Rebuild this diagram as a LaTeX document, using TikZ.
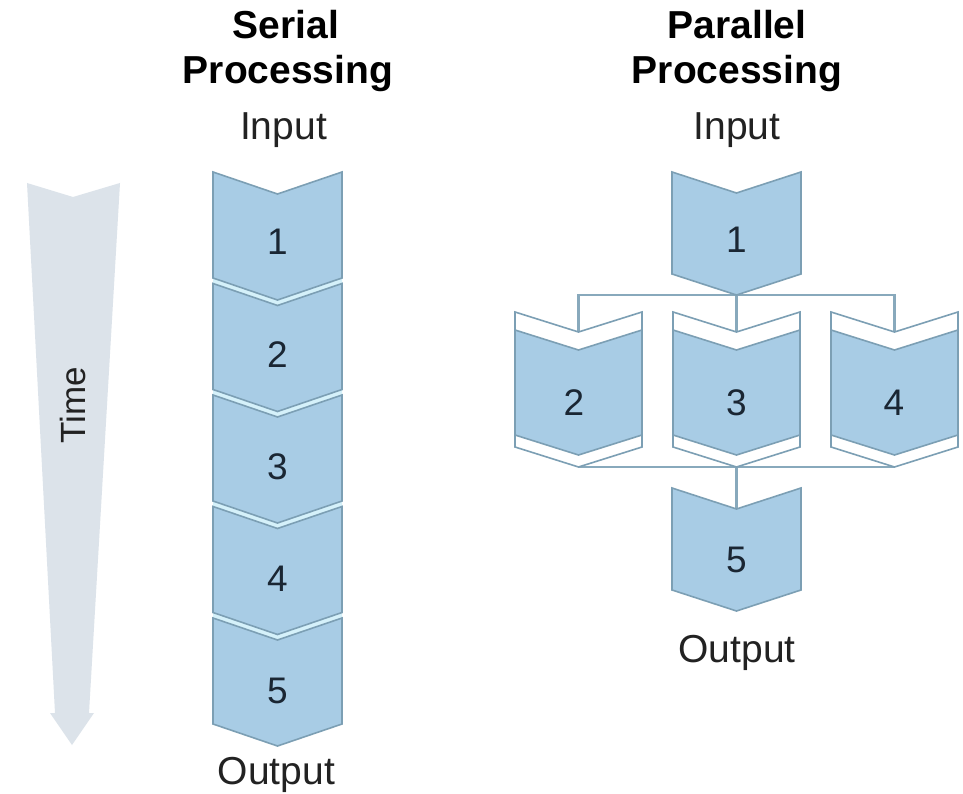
\documentclass[tikz,border=0pt]{standalone}
\usepackage{fontspec}
\setmainfont{Liberation Sans}
\definecolor{chevfill}{HTML}{A8CCE5}
\definecolor{chevline}{HTML}{7C9FB4}
\definecolor{gapcol}{HTML}{D5F1FA}
\definecolor{linkcol}{HTML}{88A9BC}
\definecolor{timecol}{HTML}{DCE3EA}
\definecolor{numcol}{HTML}{1A2633}
\definecolor{textcol}{HTML}{222222}
% chevron outline: left x, right x, top y, bottom y, depth of the V
\newcommand\chevshape[5]{(#1,#3) -- ({(#1+#2)/2},{#3+#5}) -- (#2,#3) -- (#2,#4) -- ({(#1+#2)/2},{#4+#5}) -- (#1,#4) -- cycle}
\tikzset{
  chev/.style={fill=chevfill, draw=chevline, line width=1.6pt, line join=miter},
  chevouter/.style={fill=white, draw=chevline, line width=1.6pt, line join=miter},
  link/.style={draw=linkcol, line width=2.6pt},
  num/.style={font=\fontsize{37}{37}\selectfont, text=numcol, inner sep=0pt},
  title/.style={font=\fontsize{39}{39}\selectfont\bfseries, text=black, inner sep=0pt, anchor=base},
  label/.style={font=\fontsize{39}{39}\selectfont, text=textcol, inner sep=0pt, anchor=base},
}
\begin{document}
\begin{tikzpicture}[x=1pt, y=-1pt]
\useasboundingbox[fill=white] (0,0) rectangle (963,794);

% time arrow
\fill[timecol] (27,183) -- (73,197) -- (120,183) -- (89,713) -- (94,713)
  -- (72,745) -- (50,713) -- (55,713) -- cycle;
\node[font=\fontsize{35}{35}\selectfont, text=textcol, rotate=90, inner sep=0pt] (time) at (73,405) {Time};

% serial column
\node[title] (st1) at (286,39) {Serial};
\node[title] (st2) at (288,84) {Processing};
\node[label] (sin) at (283.5,140) {Input};
\fill[gapcol] \chevshape{213}{342}{172}{724}{22};
\foreach \k in {0,...,4} {
  \pgfmathsetmacro\yt{172+111.5*\k}
  \pgfmathsetmacro\yb{\yt+106}
  \filldraw[chev] \chevshape{213}{342}{\yt}{\yb}{22};
}
\node[num] (s1) at (277.5,242) {1};
\node[num] (s2) at (277.5,355) {2};
\node[num] (s3) at (277.5,467) {3};
\node[num] (s4) at (277.5,579) {4};
\node[num] (s5) at (277.5,691) {5};
\node[label] (sout) at (276.5,784) {Output};

% parallel column
\node[title] (pt1) at (737,39) {Parallel};
\node[title] (pt2) at (737,84) {Processing};
\node[label] (pin) at (737,140) {Input};

\coordinate (p1tip) at (736.5,295);
\coordinate (p2top) at (578.5,332);
\coordinate (p3top) at (736.5,332);
\coordinate (p4top) at (894.5,332);
\coordinate (p2bot) at (578.5,467);
\coordinate (p3bot) at (736.5,467);
\coordinate (p4bot) at (894.5,467);
\coordinate (p5top) at (736.5,509);

\draw[link] (p2top) -- (p2top |- p1tip) -- (p4top |- p1tip) -- (p4top);
\draw[link] (p1tip) -- (p3top);
\draw[link] (p2bot) -- (p4bot);
\draw[link] (p3bot) -- (p5top);

\filldraw[chev] \chevshape{672}{801}{172}{274}{21};
\foreach \xc in {578.5,736.5,894.5} {
  \filldraw[chevouter] \chevshape{\xc-63.5}{\xc+63.5}{312}{447}{20};
  \filldraw[chev] \chevshape{\xc-63.5}{\xc+63.5}{330}{435}{20};
}
\filldraw[chev] \chevshape{672}{801}{488}{590}{21};

\node[num] (q1) at (736.5,240) {1};
\node[num] (q2) at (574,403) {2};
\node[num] (q3) at (736.5,403) {3};
\node[num] (q4) at (894,403) {4};
\node[num] (q5) at (736.5,560) {5};
\node[label] (pout) at (737,662) {Output};
\end{tikzpicture}
\end{document}
